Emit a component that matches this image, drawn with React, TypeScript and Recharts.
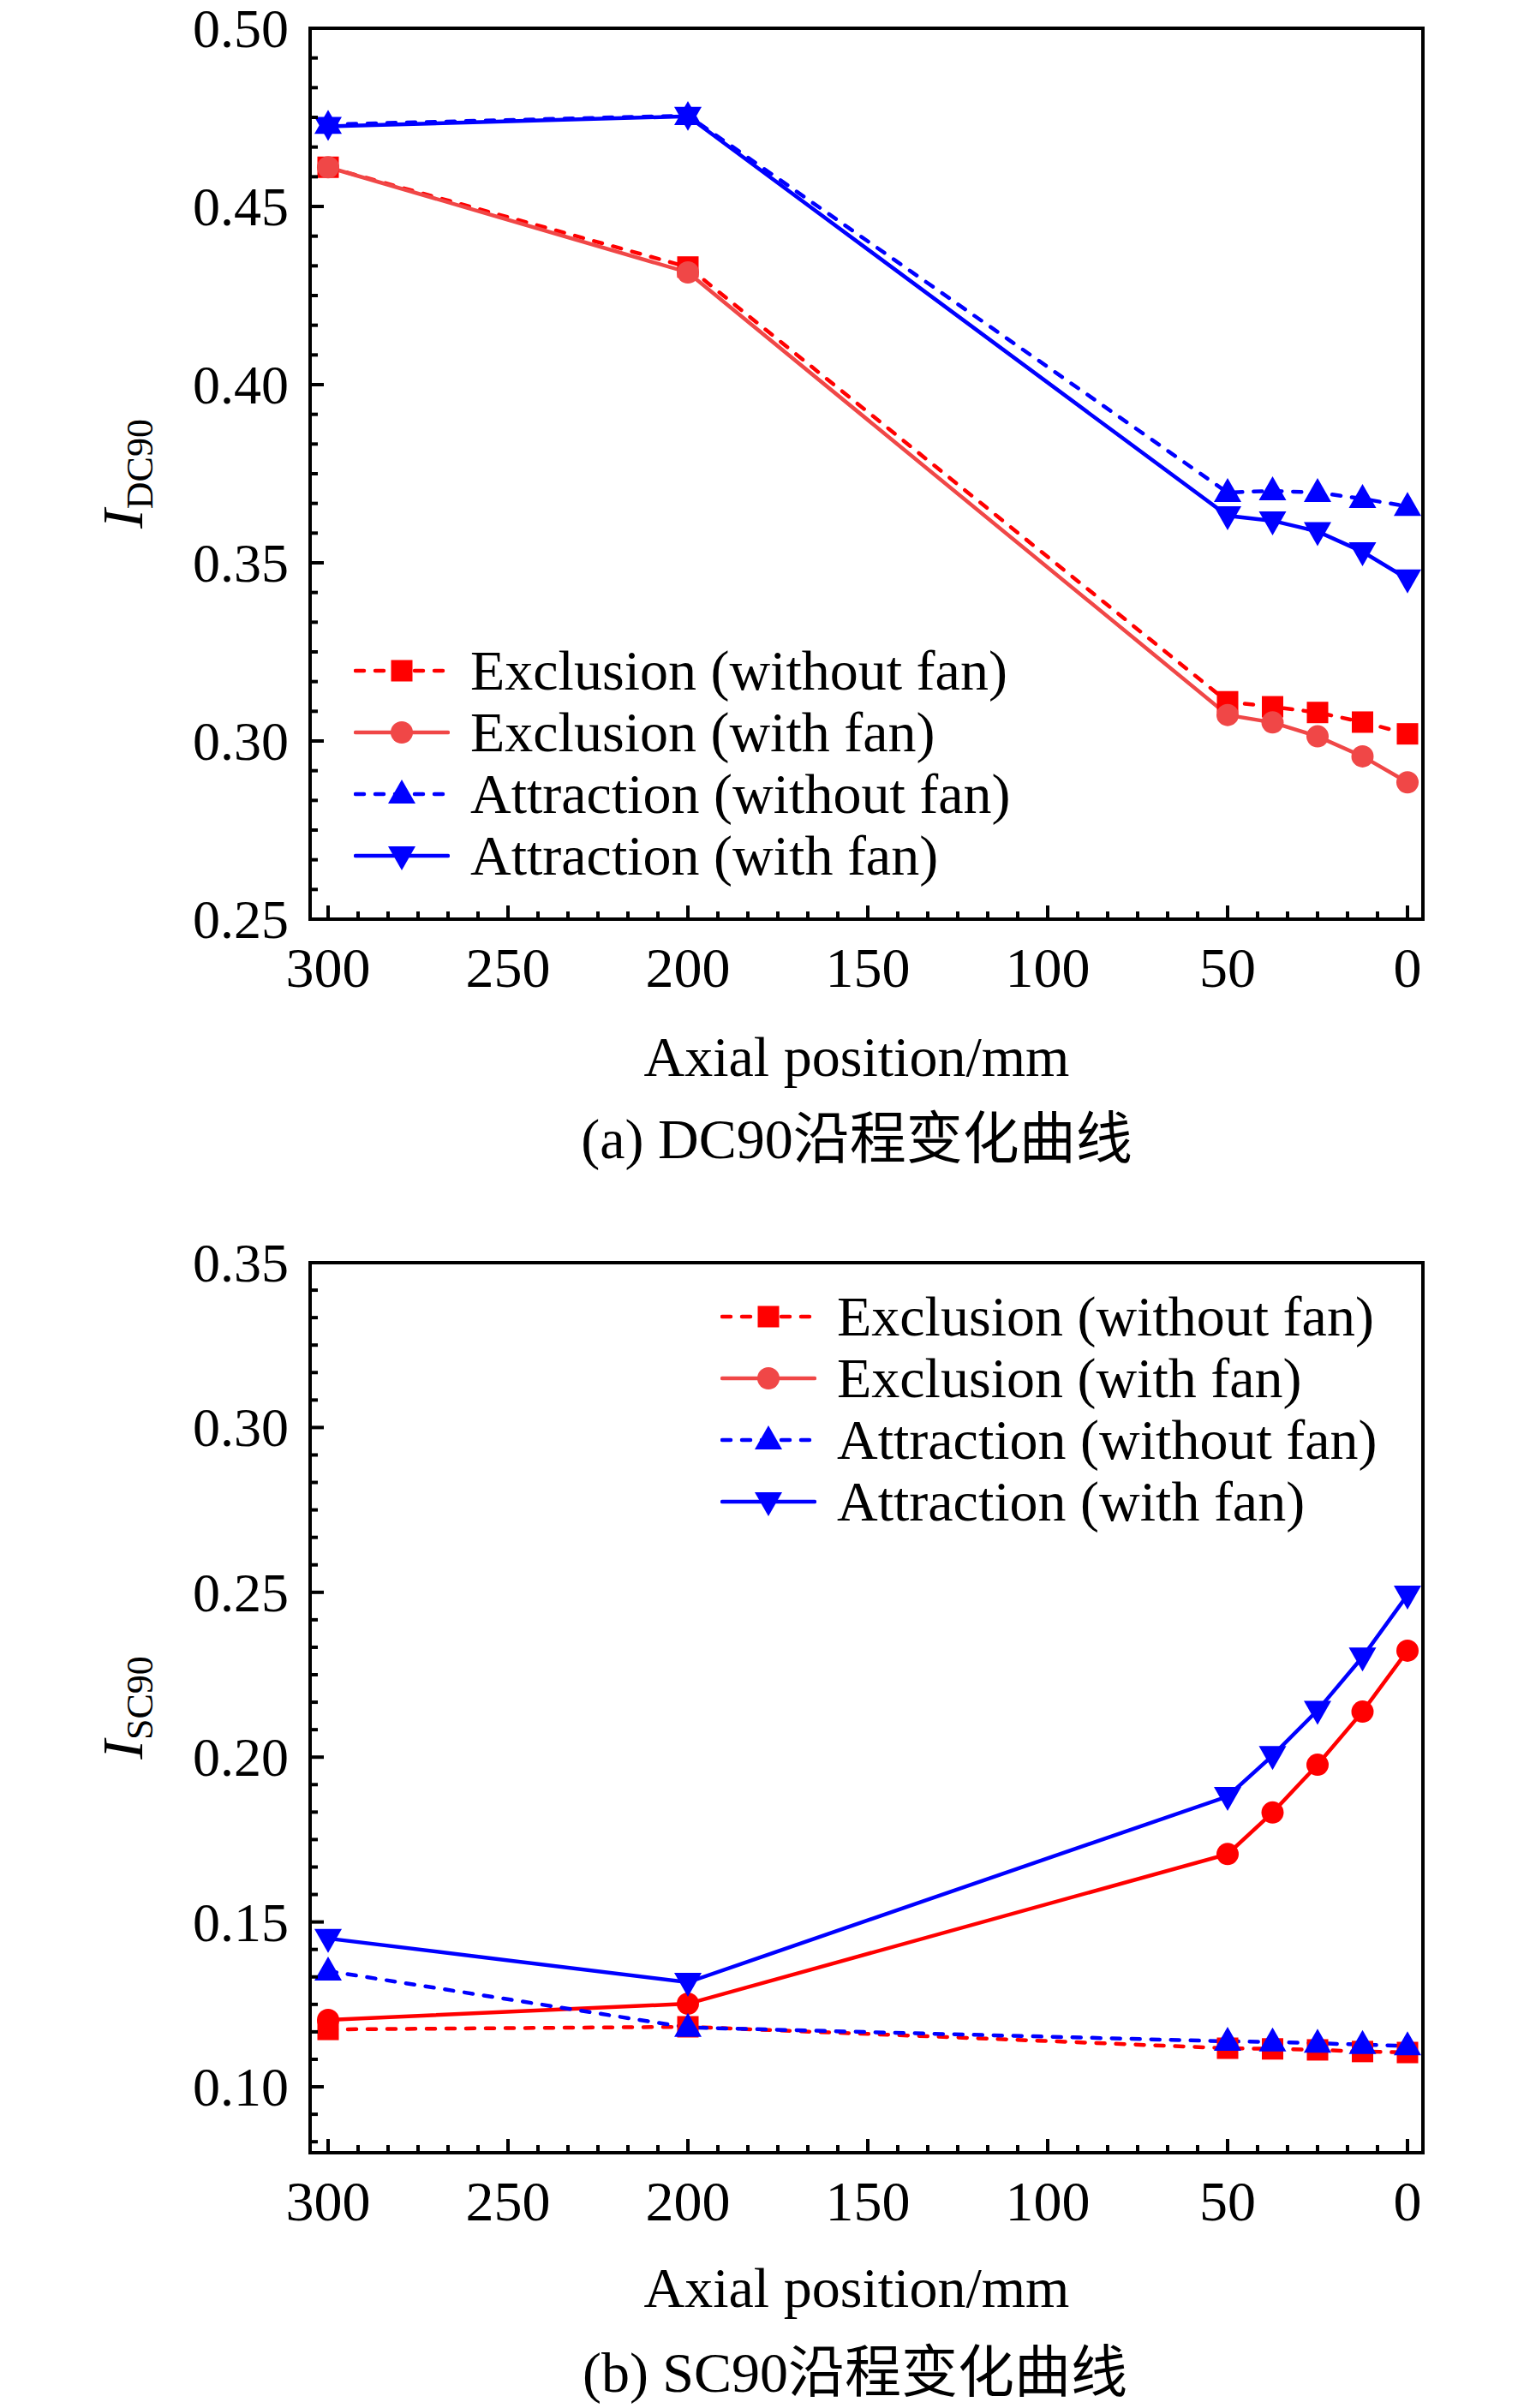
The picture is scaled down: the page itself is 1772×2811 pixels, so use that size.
import React from "react"
import { LineChart, Line, XAxis, YAxis, ReferenceArea, Label } from "recharts"

// axial positions, mm
const positions = [300, 200, 50, 37.5, 25, 12.5, 0]

// (a) I_DC90
const dcExclusionNoFan = [0.461, 0.433, 0.311, 0.3096, 0.308, 0.3053, 0.302]
const dcExclusionFan = [0.461, 0.4315, 0.3073, 0.3052, 0.3013, 0.2957, 0.2884]
const dcAttractionNoFan = [0.473, 0.4755, 0.3697, 0.3702, 0.3697, 0.368, 0.3658]
const dcAttractionFan = [0.4725, 0.4753, 0.3632, 0.3618, 0.3588, 0.3531, 0.3455]

// (b) I_SC90
const scExclusionNoFan = [0.1174, 0.1182, 0.1117, 0.1115, 0.1112, 0.1107, 0.1104]
const scExclusionFan = [0.1203, 0.1252, 0.1706, 0.1832, 0.1977, 0.2138, 0.2323]
const scAttractionNoFan = [0.1351, 0.118, 0.1138, 0.1136, 0.1132, 0.1128, 0.1124]
const scAttractionFan = [0.145, 0.1317, 0.1881, 0.2005, 0.2142, 0.2304, 0.2492]

const xMajor = [300, 250, 200, 150, 100, 50, 0]
const dcYMajor = [0.25, 0.3, 0.35, 0.4, 0.45, 0.5]
const scYMajor = [0.1, 0.15, 0.2, 0.25, 0.3, 0.35]
const seriesNames = ["Exclusion (without fan)", "Exclusion (with fan)", "Attraction (without fan)", "Attraction (with fan)"]

const serif = "'Liberation Serif', 'Times New Roman', serif"
const RED = "#FF0000"
const LIGHT_RED = "#F04747"
const BLUE = "#0000FF"
const DASH = "10 13"
const LINE_W = 4.5

const X_DOMAIN = [-4.286, 305]

function subdivide(major: number[], parts: number, lo: number, hi: number): number[] {
    const step = Math.abs(major[1] - major[0]) / parts
    const start = Math.min(...major)
    const out: number[] = []
    for (let k = -parts; k < 1000; k++) {
        const v = start + k * step
        if (v > hi + 1e-9) break
        if (v >= lo - 1e-9) out.push(+v.toFixed(6))
    }
    return out
}

const isMajor = (major: number[], v: number) => major.some((m) => Math.abs(m - v) < 1e-6)

function buildRows(a: number[], b: number[], c: number[], d: number[]) {
    return positions.map((x, i) => ({ x, exclNoFan: a[i], exclFan: b[i], attrNoFan: c[i], attrFan: d[i] }))
}

const dcRows = buildRows(dcExclusionNoFan, dcExclusionFan, dcAttractionNoFan, dcAttractionFan)
const scRows = buildRows(scExclusionNoFan, scExclusionFan, scAttractionNoFan, scAttractionFan)

type Shape = "square" | "circle" | "up" | "down"

const Marker = ({ shape, cx, cy, color }: { shape: Shape, cx: number, cy: number, color: string }) => {
    if (shape === "square") return <rect x={cx - 12.5} y={cy - 12.5} width={25} height={25} fill={color} />
    if (shape === "circle") return <circle cx={cx} cy={cy} r={13} fill={color} />
    if (shape === "up") return <path d={`M${cx},${cy - 17} L${cx + 16},${cy + 11} L${cx - 16},${cy + 11} Z`} fill={color} />
    return <path d={`M${cx},${cy + 17} L${cx + 16},${cy - 11} L${cx - 16},${cy - 11} Z`} fill={color} />
}

const XTick = (props: any) => {
    const { x, y, payload } = props
    const major = isMajor(xMajor, payload.value)
    return (
        <g>
            <line x1={x} x2={x} y1={y} y2={y - (major ? 16 : 9)} stroke="#000" strokeWidth={4} />
            {major && (
                <text x={x} y={y + 79} textAnchor="middle" fontSize={66} fontFamily={serif} fill="#000">
                    {payload.value}
                </text>
            )}
        </g>
    )
}

const makeYTick = (major: number[]) => (props: any) => {
    const { x, y, payload } = props
    const isMaj = isMajor(major, payload.value)
    return (
        <g>
            <line x1={x} x2={x + (isMaj ? 16 : 9)} y1={y} y2={y} stroke="#000" strokeWidth={4} />
            {isMaj && (
                <text x={x - 25} y={y + 22} textAnchor="end" fontSize={64} fontFamily={serif} fill="#000">
                    {payload.value.toFixed(2)}
                </text>
            )}
        </g>
    )
}

const YTitle = ({ sub, cy }: { sub: string, cy: number }) => (
    <text x={166} y={cy} transform={`rotate(-90 166 ${cy})`} textAnchor="middle" fontFamily={serif} fontSize={68} fill="#000">
        <tspan fontStyle="italic">I</tspan>
        <tspan fontSize={44} dy={12}>{sub}</tspan>
    </text>
)

interface LegendItem {
    name: string
    color: string
    dashed: boolean
    shape: Shape
}

const LegendBlock = ({ left, top, items }: { left: number, top: number, items: LegendItem[] }) => (
    <>
        {items.map((it, i) => (
            <div key={it.name} style={{ position: "absolute", left, top: top + i * 72 - 40, height: 80, display: "flex", alignItems: "center", whiteSpace: "nowrap" }}>
                <svg width={112} height={80}>
                    <line x1={2} x2={110} y1={40} y2={40} stroke={it.color} strokeWidth={LINE_W}
                        strokeDasharray={it.dashed ? DASH : undefined} strokeLinecap="round" />
                    <Marker shape={it.shape} cx={56} cy={40} color={it.color} />
                </svg>
                <span style={{ marginLeft: 24, fontFamily: serif, fontSize: 66, lineHeight: "80px", color: "#000" }}>{it.name}</span>
            </div>
        ))}
    </>
)

const Caption = ({ text, cx, cy }: { text: string, cx: number, cy: number }) => (
    <div style={{ position: "absolute", left: cx - 600, width: 1200, top: cy - 40, lineHeight: "80px", textAlign: "center",
        fontFamily: "'Liberation Serif', 'Noto Sans CJK SC', serif", fontSize: 66, color: "#000", whiteSpace: "nowrap" }}>
        {text}
    </div>
)

interface PanelProps {
    rows: Array<any>
    yDomain: number[]
    yMajor: number[]
    sub: string
    marginTop: number
    marginBottom: number
    exclFanColor: string
}

const CHART_H = 1300
const X_AXIS_H = 100

const Panel = ({ rows, yDomain, yMajor, sub, marginTop, marginBottom, exclFanColor }: PanelProps) => {
    const plotBottom = CHART_H - marginBottom - X_AXIS_H
    const xTicks = subdivide(xMajor, 6, 0, 305)
    const yTicks = subdivide(yMajor, 6, yDomain[0], yDomain[1])
    const YTick = makeYTick(yMajor)
    const dot = (shape: Shape, color: string) => (p: any) =>
        <Marker key={`${shape}-${p.index}`} shape={shape} cx={p.cx} cy={p.cy} color={color} />
    return (
        <LineChart width={1772} height={CHART_H} data={rows}
            margin={{ top: marginTop, right: 111, bottom: marginBottom, left: 242 }}>
            <XAxis dataKey="x" type="number" domain={X_DOMAIN} reversed allowDataOverflow
                ticks={xTicks} interval={0} tick={<XTick />} tickLine={false} tickSize={0} tickMargin={0}
                axisLine={{ stroke: "#000", strokeWidth: 4 }} height={X_AXIS_H} />
            <YAxis type="number" domain={yDomain} allowDataOverflow
                ticks={yTicks} interval={0} tick={<YTick />} tickLine={false} tickSize={0} tickMargin={0}
                axisLine={{ stroke: "#000", strokeWidth: 4 }} width={120}>
                <Label content={() => <YTitle sub={sub} cy={(marginTop + plotBottom) / 2} />} />
            </YAxis>
            <ReferenceArea x1={X_DOMAIN[0]} x2={X_DOMAIN[1]} y1={yDomain[0]} y2={yDomain[1]}
                fill="none" stroke="#000" strokeWidth={4} />
            <Line type="linear" dataKey="exclNoFan" stroke={RED} strokeWidth={LINE_W} strokeDasharray={DASH} strokeLinecap="round"
                dot={dot("square", RED)} activeDot={false} isAnimationActive={false} />
            <Line type="linear" dataKey="exclFan" stroke={exclFanColor} strokeWidth={LINE_W}
                dot={dot("circle", exclFanColor)} activeDot={false} isAnimationActive={false} />
            <Line type="linear" dataKey="attrNoFan" stroke={BLUE} strokeWidth={LINE_W} strokeDasharray={DASH} strokeLinecap="round"
                dot={dot("up", BLUE)} activeDot={false} isAnimationActive={false} />
            <Line type="linear" dataKey="attrFan" stroke={BLUE} strokeWidth={LINE_W}
                dot={dot("down", BLUE)} activeDot={false} isAnimationActive={false} />
        </LineChart>
    )
}

const legendItems: LegendItem[] = [
    { name: seriesNames[0], color: RED, dashed: true, shape: "square" },
    { name: seriesNames[1], color: LIGHT_RED, dashed: false, shape: "circle" },
    { name: seriesNames[2], color: BLUE, dashed: true, shape: "up" },
    { name: seriesNames[3], color: BLUE, dashed: false, shape: "down" },
]

const App = () => (
    <div style={{ position: "absolute", left: 0, top: 0, width: 1772, height: 2811, background: "#fff", overflow: "hidden" }}>
        <div style={{ position: "absolute", left: 0, top: 0 }}>
            <Panel rows={dcRows} yDomain={[0.25, 0.5]} yMajor={dcYMajor} sub="DC90" marginTop={33} marginBottom={127} exclFanColor={LIGHT_RED} />
        </div>
        <div style={{ position: "absolute", left: 0, top: 1400 }}>
            <Panel rows={scRows} yDomain={[0.08, 0.35]} yMajor={scYMajor} sub="SC90" marginTop={74} marginBottom={87} exclFanColor={RED} />
        </div>
        <LegendBlock left={413} top={783} items={legendItems} />
        <LegendBlock left={841} top={1537} items={legendItems} />
        <Caption text="Axial position/mm" cx={1000} cy={1234} />
        <Caption text="(a) DC90沿程变化曲线" cx={1000} cy={1330} />
        <Caption text="Axial position/mm" cx={1000} cy={2671} />
        <Caption text="(b) SC90沿程变化曲线" cx={998} cy={2770} />
    </div>
)

export default App
